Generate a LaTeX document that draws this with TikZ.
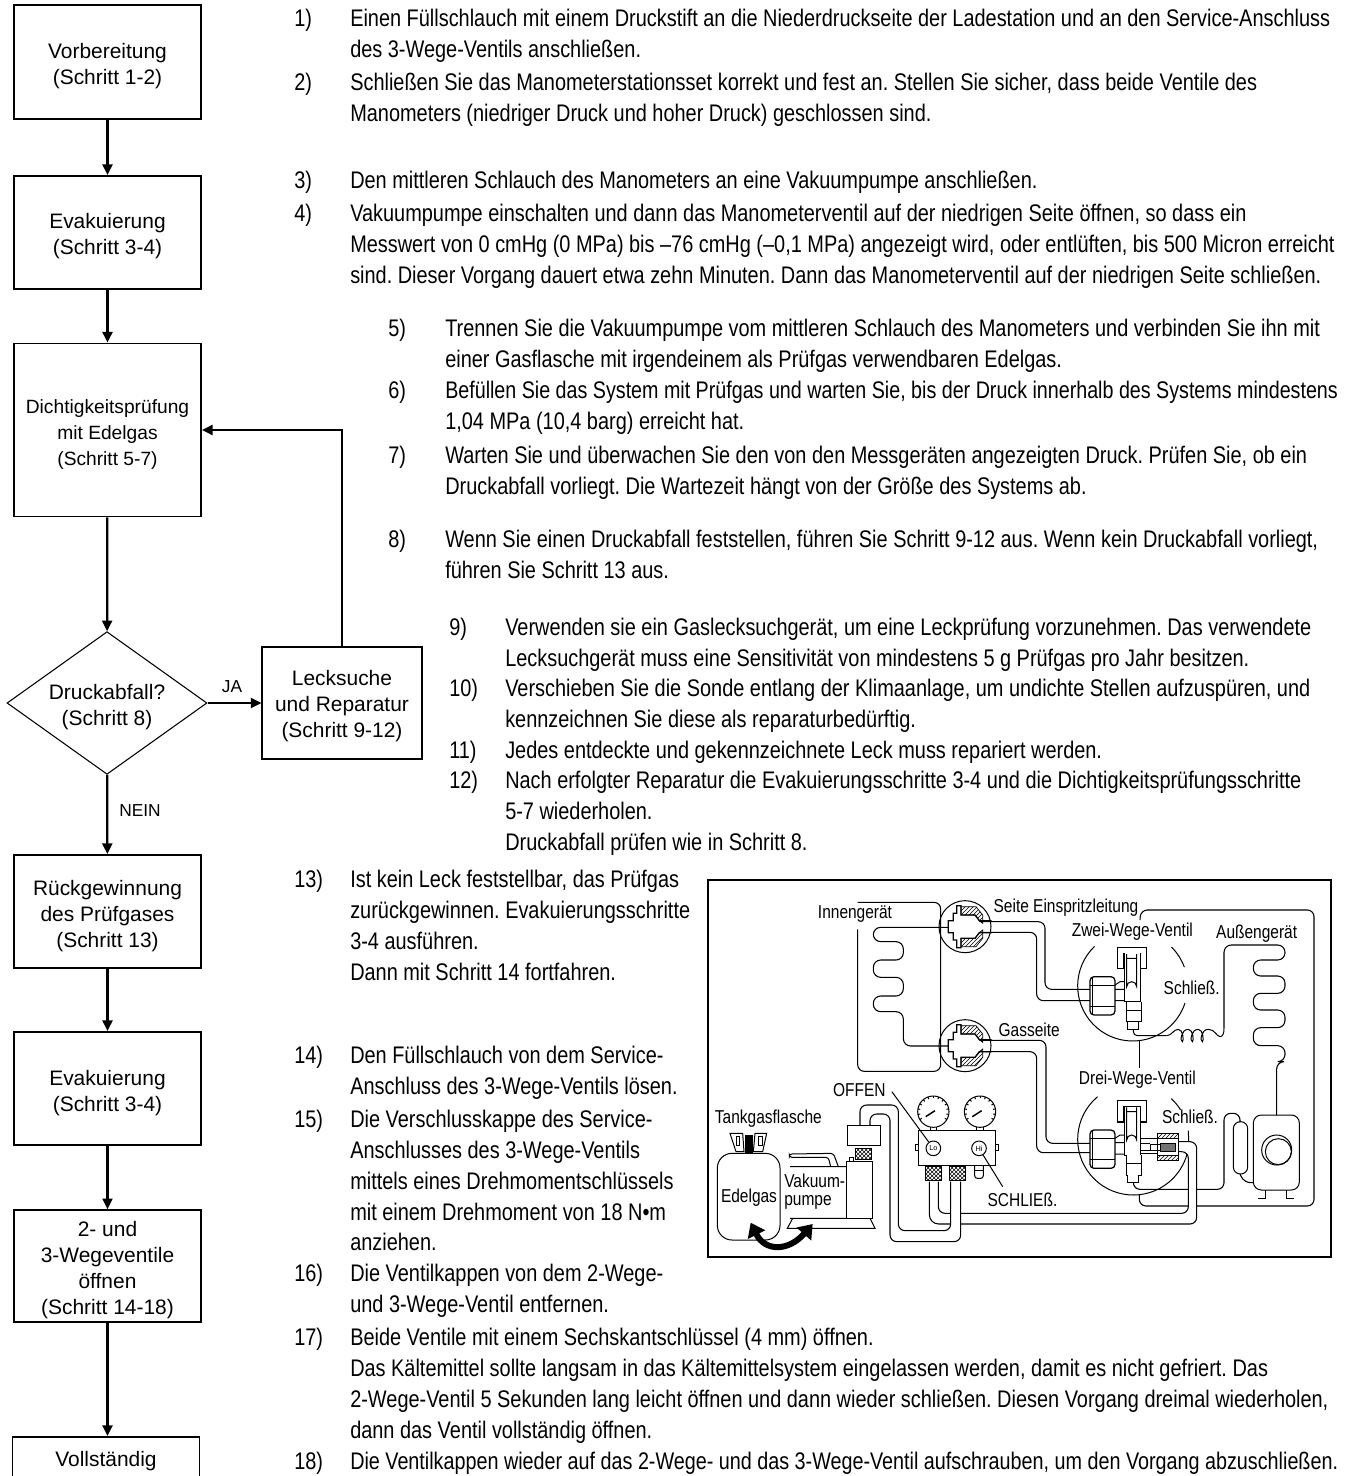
\documentclass[tikz,border=0pt]{standalone}
\usepackage{fontspec}
\usetikzlibrary{shapes.geometric,arrows.meta,patterns,calc}
\setmainfont{Liberation Sans}
\newfontfamily\cond[FakeStretch=0.83]{Liberation Sans}
\newcommand\mainf{\cond\fontsize{18pt}{23.1pt}\selectfont\frenchspacing}
\newcommand\flowf{\fontsize{15.7pt}{19.5pt}\selectfont}
\newcommand\diagf{\cond\fontsize{14pt}{17pt}\selectfont}
\newcommand\st{\rule{0pt}{17.5pt}}
\newcommand\sq[2]{\scalebox{#1}[1]{#2}}
% name, xnum, xtext, baseline y, number, text
\newcommand\Item[6]{%
  \node[itemtext] (n#1) at (#2,#4) {\rule{0pt}{16pt}#5};
  \node[itemtext] (t#1) at (#3,#4) {\rule{0pt}{16pt}#6};}
\newcommand\Flare{%
  \foreach \s in {1,-1}{
    \draw[hatchfill,yscale=\s] (-12,-60)--(33,-60)--(53,-35)--(53,-10)--(43,-18)--(30,-35)--(-12,-35)--cycle;
    \draw[thick line,yscale=\s] (-50,0)--(-50,-18)--(-35,-18)--(-35,-40)--(-25,-40)--(-25,-63)--(-12,-63)--(-12,-35)--(30,-35)--(43,-18)--(80,-18);
  }
  \draw[thick line] (-50,-18)--(-50,18);
}
\newcommand\Gauge[1]{%
  \begin{scope}[shift={(#1)}]
    \draw[thin line] (0,0) circle (47);
    \foreach \a in {150,170,...,390}{\draw[thin line] (\a:47)--(\a:40);}
    \draw[line width=1.1pt] (-23,15)--(5,-3);
    \draw[thin line] (-10,47)--(-10,57) (10,47)--(10,57);
  \end{scope}}
\newcommand\ValveBody{%
  \draw[thick line,fill=white,rounded corners=3pt] (210,320)--(285,320)--(285,435)--(210,435)--cycle;
  \draw[thin line] (218,320)--(218,435) (210,345)--(285,345) (210,408)--(285,408);
  \draw[thin line] (285,358)--(312,358) (285,392)--(312,392) (285,345)--(300,335)--(312,335);
  \draw[thick line,fill=white] (292,296)--(292,232)--(380,232)--(380,296)--(362,296)--(362,250)--(310,250)--(310,296)--cycle;
  \draw[thin line,fill=white] (312,250)--(312,395)--(362,395)--(362,250);
  \draw[thin line] (320,252)--(320,350) arc[start angle=180,end angle=0,x radius=15,y radius=-15]--(350,252) (320,265)--(350,265);
  \draw[thin line,fill=white] (318,395)--(318,455)--(365,455)--(365,395);
  \draw[thin line] (318,420)--(365,420);
  \draw[thin line,fill=white] (322,455)--(322,478)--(355,478)--(355,455);
}
\tikzset{
  itemtext/.style={anchor=north west,inner sep=0pt,align=left,font=\mainf,yshift=16pt},
  flowbox/.style={draw=black,line width=1.2pt,fill=white,align=center,font=\flowf,inner sep=0pt,minimum width=140.5pt},
  flowarrow/.style={line width=1.7pt,-{Triangle[length=8pt,width=7.5pt]}},
  flowlabel/.style={font=\fontsize{13pt}{15pt}\selectfont,inner sep=0pt},
  dlabel/.style={font=\diagf,inner sep=0pt},
  thin line/.style={line width=.75pt},
  thick line/.style={line width=.95pt},
  hatchfill/.style={line width=.5pt,pattern=north east lines},
  knurl/.style={line width=.5pt,pattern=crosshatch},
  coil/.style={line width=.8pt,rounded corners=5.5pt},
  pipe/.style={line width=.8pt,rounded corners=5pt},
}
\begin{document}
\begin{tikzpicture}[x=.75pt,y=-.75pt]
\useasboundingbox (0,0) rectangle (1355,1476);
\clip (0,0) rectangle (1355,1476);
\fill[white] (0,0) rectangle (1355,1476);
% ---------- flow chart
\node[flowbox,minimum height=85.5pt] (a) at (107.5,62) {\st Vorbereitung\\(Schritt 1-2)};
\node[flowbox,minimum height=85pt] (b) at (107.5,232.5) {\st Evakuierung\\(Schritt 3-4)};
\node[flowbox,minimum height=130pt,font=\fontsize{14.4pt}{19.5pt}\selectfont] (c) at (107.5,430) {\st Dichtigkeitsprüfung\\mit Edelgas\\(Schritt 5-7)};
\node[draw=black,line width=.8pt,diamond,aspect=1.4,minimum width=150pt,minimum height=107pt,inner sep=0pt,align=center,font=\flowf] (d) at (107,703) {\st Druckabfall?\\(Schritt 8)};
\node[flowbox,draw=black,line width=.8pt,minimum width=120pt,minimum height=84pt] (l) at (342,703) {\rule{0pt}{16pt}Lecksuche\\und Reparatur\\(Schritt 9-12)};
\node[flowbox,minimum height=85pt] (e) at (107.5,911.5) {\st Rückgewinnung\\des Prüfgases\\(Schritt 13)};
\node[flowbox,minimum height=85pt] (f) at (107.5,1088.5) {\st Evakuierung\\(Schritt 3-4)};
\node[flowbox,minimum height=84pt] (g) at (107.5,1266) {\st 2- und\\3-Wegeventile\\öffnen\\(Schritt 14-18)};
\node[draw=black,line width=1.2pt,inner sep=0pt,minimum width=140.5pt,minimum height=100pt,anchor=north] (h) at (106,1436) {};
\node[font=\flowf,inner sep=0pt] (hh) at (106,1461) {Vollständig};
\draw[flowarrow] (a)--(b);
\draw[flowarrow] (b)--(c);
\draw[flowarrow] (c)--(d);
\draw[flowarrow] (d)--(l);
\draw[flowarrow] (d)--(e);
\draw[flowarrow] (e)--(f);
\draw[flowarrow] (f)--(g);
\draw[flowarrow] (g.south)--(h.north-|g.south);
\draw[flowarrow] (l.north)|-(c.east);
\node[flowlabel] (ja) at (232,687) {JA};
\node[flowlabel] (nein) at (140,811) {NEIN};
% ---------- text
\Item{1}{294}{350}{26.5}{1)}{Einen Füllschlauch mit einem Druckstift an die Niederdruckseite der Ladestation und an den Service-Anschluss\\des 3-Wege-Ventils anschließen.}
\Item{2}{294}{350}{90.5}{2)}{Schließen Sie das Manometerstationsset korrekt und fest an. Stellen Sie sicher, dass beide Ventile des\\Manometers (niedriger Druck und hoher Druck) geschlossen sind.}
\Item{3}{294}{350}{188.5}{3)}{Den mittleren Schlauch des Manometers an eine Vakuumpumpe anschließen.}
\Item{4}{294}{350}{221.5}{4)}{Vakuumpumpe einschalten und dann das Manometerventil auf der niedrigen Seite öffnen, so dass ein\\Messwert von 0 cmHg (0 MPa) bis –76 cmHg (–0,1 MPa) angezeigt wird, oder entlüften, bis 500 Micron erreicht\\sind. Dieser Vorgang dauert etwa zehn Minuten. Dann das Manometerventil auf der niedrigen Seite schließen.}
\Item{5}{388}{445}{336.5}{5)}{Trennen Sie die Vakuumpumpe vom mittleren Schlauch des Manometers und verbinden Sie ihn mit\\einer Gasflasche mit irgendeinem als Prüfgas verwendbaren Edelgas.}
\Item{6}{388}{445}{398.5}{6)}{\sq{.988}{Befüllen Sie das System mit Prüfgas und warten Sie, bis der Druck innerhalb des Systems mindestens}\\1,04 MPa (10,4 barg) erreicht hat.}
\Item{7}{388}{445}{463.5}{7)}{Warten Sie und überwachen Sie den von den Messgeräten angezeigten Druck. Prüfen Sie, ob ein\\Druckabfall vorliegt. Die Wartezeit hängt von der Größe des Systems ab.}
\Item{8}{388}{445}{547.5}{8)}{Wenn Sie einen Druckabfall feststellen, führen Sie Schritt 9-12 aus. Wenn kein Druckabfall vorliegt,\\führen Sie Schritt 13 aus.}
\Item{9}{449}{505}{635.5}{9)}{Verwenden sie ein Gaslecksuchgerät, um eine Leckprüfung vorzunehmen. Das verwendete\\Lecksuchgerät muss eine Sensitivität von mindestens 5 g Prüfgas pro Jahr besitzen.}
\Item{10}{449}{505}{696.5}{10)}{Verschieben Sie die Sonde entlang der Klimaanlage, um undichte Stellen aufzuspüren, und\\kennzeichnen Sie diese als reparaturbedürftig.}
\Item{11}{449}{505}{758.5}{11)}{Jedes entdeckte und gekennzeichnete Leck muss repariert werden.}
\Item{12}{449}{505}{788.5}{12)}{Nach erfolgter Reparatur die Evakuierungsschritte 3-4 und die Dichtigkeitsprüfungsschritte\\5-7 wiederholen.\\Druckabfall prüfen wie in Schritt 8.}
\Item{13}{294}{350}{887.5}{13)}{Ist kein Leck feststellbar, das Prüfgas\\zurückgewinnen. Evakuierungsschritte\\3-4 ausführen.\\Dann mit Schritt 14 fortfahren.}
\Item{14}{294}{350}{1063.5}{14)}{Den Füllschlauch von dem Service-\\Anschluss des 3-Wege-Ventils lösen.}
\Item{15}{294}{350}{1127.5}{15)}{Die Verschlusskappe des Service-\\Anschlusses des 3-Wege-Ventils\\mittels eines Drehmomentschlüssels\\mit einem Drehmoment von 18 N•m\\anziehen.}
\Item{16}{294}{350}{1281.5}{16)}{Die Ventilkappen von dem 2-Wege-\\und 3-Wege-Ventil entfernen.}
\Item{17}{294}{350}{1345.5}{17)}{Beide Ventile mit einem Sechskantschlüssel (4 mm) öffnen.\\Das Kältemittel sollte langsam in das Kältemittelsystem eingelassen werden, damit es nicht gefriert. Das\\2-Wege-Ventil 5 Sekunden lang leicht öffnen und dann wieder schließen. Diesen Vorgang dreimal wiederholen,\\dann das Ventil vollständig öffnen.}
\Item{18}{294}{350}{1469.5}{18)}{\sq{.992}{Die Ventilkappen wieder auf das 2-Wege- und das 3-Wege-Ventil aufschrauben, um den Vorgang abzuschließen.}}
% ---------- schematic frame
\draw[line width=1.2pt] (708,880) rectangle (1331,1257);
% ---------- left part, coordinates of 3x crop at (700,870)
\begin{scope}[shift={(700,870)},x=.25pt,y=-.25pt]
  % indoor unit outline
  \draw[pipe] (473,178)--(473,604)--(722,604)--(722,97)--(473,97);
  % indoor coil
  \draw[coil] (745,172)--(520,172)--(520,215)--(610,215)--(610,270)--(520,270)--(520,322)--(610,322)--(610,378)--(520,378)--(520,425)--(610,425)--(610,528)--(745,528);
  % flare fittings
  \begin{scope}[shift={(795,170)}]\Flare\draw[thin line] (0,0) circle (78);\end{scope}
  \begin{scope}[shift={(795,527)}]\Flare\draw[thin line] (0,0) circle (78);\end{scope}
  % bottle
  \draw[thin line,fill=white,rounded corners=11pt] (52,850)--(240,850)--(240,1110)--(52,1110)--cycle;
  \draw[thin line,fill=white] (90,790)--(128,790)--(132,845)--(108,845)--cycle (200,790)--(165,790)--(160,845)--(188,845)--cycle;
  \fill[black] (135,795) rectangle (158,850);
  \draw[thin line] (108,800) rectangle (118,825) (175,800) rectangle (187,825);
  % vacuum pump
  \draw[thin line] (270,890)--(440,890) (270,1045)--(440,1045) (278,1045)--(262,1075)--(525,1075)--(510,1045);
  \draw[thin line,rounded corners=2pt] (392,890)--(385,862)--(268,862)--(268,852)--(400,850)--(415,890);
  \draw[thin line,fill=white] (440,875) rectangle (518,1045);
  \draw[thin line] (448,875)--(448,862)--(460,862)--(460,875);
  \draw[knurl] (467,835) rectangle (515,868);
  \draw[thin line,fill=white] (442,767) rectangle (540,825);
  % hoses to the manifold
  \draw[pipe] (480,767)--(480,705)--(595,705)--(595,1082)--(752,1082)--(752,935);
  \draw[pipe] (510,767)--(510,732)--(570,732)--(570,1115)--(782,1115)--(782,935);
  \draw[pipe,rounded corners=7pt] (688,935)--(688,1062)--(752,1062);
  \draw[pipe] (715,935)--(715,1030)--(752,1030);
  % manifold
  \draw[thin line] (645,822) rectangle (655,842) (885,822) rectangle (895,842);
  \draw[thin line,fill=white] (655,782) rectangle (885,885);
  \Gauge{700,725}
  \Gauge{840,725}
  \node[draw,circle,thin line,fill=white,minimum size=11pt,inner sep=0pt,font=\fontsize{5.5pt}{6pt}\selectfont] (lo) at (700,835) {Lo};
  \node[draw,circle,thin line,fill=white,minimum size=11pt,inner sep=0pt,font=\fontsize{5.5pt}{6pt}\selectfont] (hi) at (837,835) {Hi};
  \draw[knurl] (677,888) rectangle (725,930);
  \draw[knurl] (748,888) rectangle (795,930);
  \draw[thin line,rounded corners=2pt] (824,885)--(824,925)--(850,925)--(850,885);
  \draw[thin line] (822,900)--(852,900);
  % labels
  \node[dlabel] (innen) at (465,133) {Innengerät};
  \node[dlabel,anchor=west] (seite) at (880,113) {Seite Einspritzleitung};
  \node[dlabel,anchor=west] (gas) at (895,478) {Gasseite};
  \node[dlabel] (offen) at (478,660) {OFFEN};
  \node[dlabel,anchor=west] (schl) at (862,988) {SCHLIEß.};
  \node[dlabel] (tank) at (205,745) {Tankgasflasche};
  \node[dlabel] (edel) at (147,983) {Edelgas};
  \node[dlabel,anchor=west] (vak1) at (252,932) {Vakuum-};
  \node[dlabel,anchor=west] (vak2) at (252,998) {pumpe};
  \draw[thin line] (offen.east)++(18,5)--(lo);
  \draw[thin line] (hi)--(908,950);
  % swap arrow
  \draw[line width=4.5pt,{Triangle[length=10pt,width=14pt]}-{Triangle[length=10pt,width=14pt]}] (152,1058) .. controls (195,1145) and (265,1145) .. (338,1062);
\end{scope}
% ---------- right part, coordinates of 3x crop at (1020,870)
\begin{scope}[shift={(1020,870)},x=.25pt,y=-.25pt]
  % pipes from the flare fittings
  \draw[pipe] (-122,155)--(75,155)--(75,358)--(210,358);
  \draw[pipe] (-122,187)--(50,187)--(50,392)--(210,392);
  \draw[pipe] (-122,511)--(78,511)--(78,820)--(210,820);
  \draw[pipe] (-122,545)--(50,545)--(50,848)--(210,848);
  % valve circles
  \draw[thin line] (226:165) ++(338,348) arc[start angle=226,end angle=18,radius=165];
  \draw[thin line] (-20:165) ++(338,348) arc[start angle=-20,end angle=-45,radius=165];
  \draw[thin line] (230:167) ++(340,808) arc[start angle=230,end angle=15,radius=167];
  \draw[thin line] (-47:167) ++(340,808) arc[start angle=-47,end angle=-32,radius=167];
  \draw[thin line] (505,782)--(506,815);
  \draw[thin line] (358,513)--(358,595);
  % two-way valve
  \begin{scope}\ValveBody\end{scope}
  % three-way valve, same drawing moved down
  \begin{scope}[shift={(0,460)}]\ValveBody\end{scope}
  % service port
  \draw[thin line] (362,805)--(412,805) (362,850)--(412,850) (362,820)--(390,820) (362,840)--(390,840);
  \draw[hatchfill] (412,790)--(475,790)--(475,806)--(412,806)--cycle;
  \draw[hatchfill] (412,856)--(475,856)--(475,872)--(412,872)--cycle;
  \draw[thin line] (412,806)--(412,856) (475,806)--(475,856);
  \draw[thin line,fill=black!55] (420,820) rectangle (465,845);
  \draw[thin line] (390,822) rectangle (420,842);
  % outdoor unit outline
  \draw[pipe] (358,975)--(358,1008)--(882,1008)--(882,120)--(362,120)--(360,150);
  % two-way line, coil, condenser
  \draw[thin line,rounded corners=3pt] (340,478)--(340,497)--(440,497);
  \draw[thin line] (440,497) .. controls (455,497) and (460,478) .. (475,478) .. controls (490,478) and (492,515) .. (487,515) .. controls (480,515) and (482,478) .. (505,478) .. controls (520,478) and (522,515) .. (517,515) .. controls (510,515) and (512,478) .. (535,478) .. controls (550,478) and (552,515) .. (547,515) .. controls (540,515) and (542,478) .. (565,478) .. controls (585,478) and (590,500) .. (600,500) .. controls (608,500) and (612,490) .. (612,475);
  \draw[coil] (612,475)--(612,225)--(795,225)--(795,270)--(700,270)--(700,318)--(795,318)--(795,370)--(700,370)--(700,420)--(795,420)--(795,473)--(700,473)--(700,527)--(795,527)--(795,575)--(770,575)--(770,735);
  % three-way line and accumulator
  \draw[pipe] (340,938)--(340,958)--(612,958)--(612,730)--(660,730)--(660,757);
  \draw[thin line,rounded corners=5.2pt] (640,755)--(683,755)--(683,912)--(640,912)--cycle;
  \draw[pipe] (660,912)--(672,938)--(700,938);
  % hoses from the service port, over the lines they cross
  \fill[white] (507,945) rectangle (528,1020);
  \draw[pipe] (475,815)--(530,815)--(530,1062)--(-178,1062);
  \draw[pipe] (475,845)--(505,845)--(505,1030)--(-178,1030);
  % compressor
  \draw[thin line,rounded corners=6pt] (700,735)--(838,735)--(838,960)--(700,960)--cycle;
  \draw[thin line] (770,840) circle (45);
  \draw[thin line] (775,845) circle (39);
  \draw[thin line] (735,960)--(735,985)--(715,985) (800,960)--(800,985)--(822,985);
  % labels
  \node[dlabel] (zwei) at (337,185) {Zwei-Wege-Ventil};
  \node[dlabel] (aussen) at (710,190) {Außengerät};
  \node[dlabel] (schl1) at (515,352) {Schließ.};
  \node[dlabel] (drei) at (352,630) {Drei-Wege-Ventil};
  \node[dlabel] (schl2) at (510,740) {Schließ.};
\end{scope}
\end{tikzpicture}
\end{document}
